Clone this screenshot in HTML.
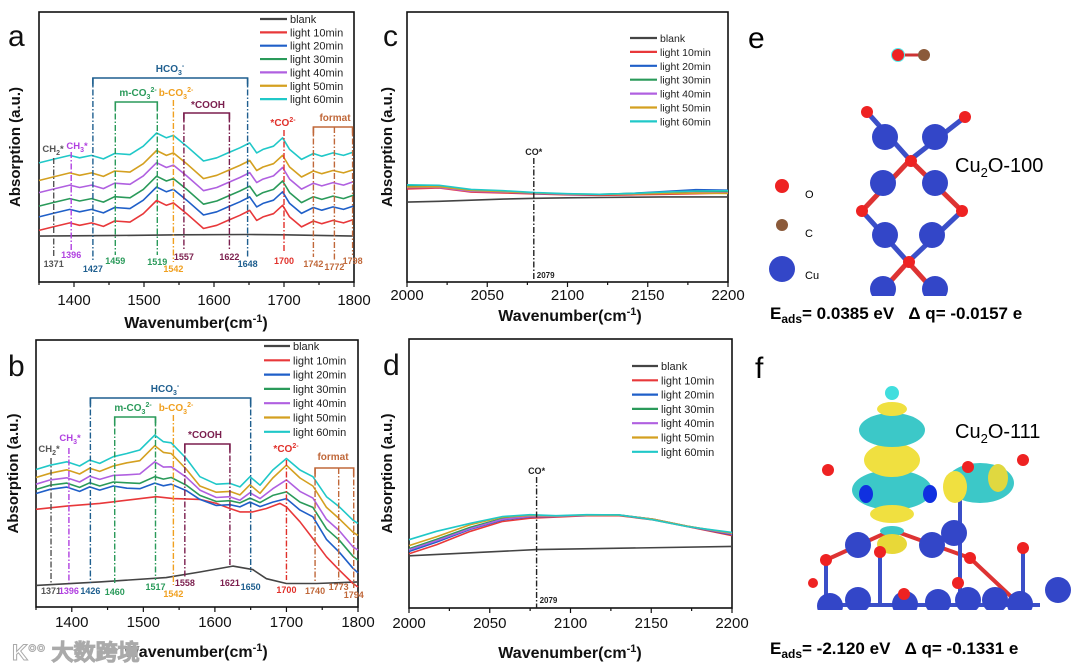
<!DOCTYPE html>
<html><head><meta charset="utf-8">
<style>
html,body{margin:0;padding:0;background:#fff;}
svg{display:block;font-family:"Liberation Sans",Arial,sans-serif;}
</style></head>
<body>
<svg id="fig" width="1080" height="670" viewBox="0 0 1080 670" xmlns="http://www.w3.org/2000/svg">
<rect x="0" y="0" width="1080" height="670" fill="#fff"/>
<g id="plots"></g>

<!-- panel e -->
<g>
  <text x="748" y="48" font-size="30">e</text>
  <line x1="898" y1="55" x2="924" y2="55" stroke="#c33" stroke-width="3"/>
  <circle cx="898" cy="55" r="7" fill="#5ee" />
  <circle cx="898" cy="55" r="6" fill="#e22"/>
  <circle cx="924" cy="55" r="6" fill="#8b5a3a"/>
  <g stroke-width="5">
    <line x1="867" y1="112" x2="910" y2="160" stroke="#3b4fc8"/>
    <line x1="965" y1="117" x2="910" y2="160" stroke="#3b4fc8"/>
    <line x1="910" y1="160" x2="862" y2="211" stroke="#d33"/>
    <line x1="910" y1="160" x2="962" y2="211" stroke="#d33"/>
    <line x1="862" y1="211" x2="908" y2="262" stroke="#3b4fc8"/>
    <line x1="962" y1="211" x2="908" y2="262" stroke="#3b4fc8"/>
    <line x1="908" y1="262" x2="880" y2="293" stroke="#d33"/>
    <line x1="908" y1="262" x2="936" y2="293" stroke="#d33"/>
  </g>
  <g fill="#3346c8">
    <circle cx="885" cy="137" r="13"/><circle cx="935" cy="137" r="13"/>
    <circle cx="883" cy="183" r="13"/><circle cx="935" cy="183" r="13"/>
    <circle cx="885" cy="235" r="13"/><circle cx="932" cy="235" r="13"/>
    <circle cx="883" cy="289" r="13"/><circle cx="935" cy="289" r="13"/>
  </g>
  <g fill="#e22">
    <circle cx="867" cy="112" r="6"/><circle cx="965" cy="117" r="6"/>
    <circle cx="911" cy="161" r="6"/><circle cx="862" cy="211" r="6"/>
    <circle cx="962" cy="211" r="6"/><circle cx="909" cy="262" r="6"/>
  </g>
  <rect x="840" y="296" width="140" height="10" fill="#fff"/>
  <circle cx="782" cy="186" r="7" fill="#e22"/><text x="805" y="198" font-size="11">O</text>
  <circle cx="782" cy="225" r="6" fill="#8b5a3a"/><text x="805" y="237" font-size="11">C</text>
  <circle cx="782" cy="269" r="13" fill="#3346c8"/><text x="805" y="279" font-size="11">Cu</text>
  <text x="955" y="172" font-size="20">Cu<tspan font-size="13" dy="5">2</tspan><tspan dy="-5">O-100</tspan></text>
  <text x="770" y="319" font-size="17" font-weight="bold" style="white-space:pre">E<tspan font-size="12" dy="4">ads</tspan><tspan dy="-4">= 0.0385 eV   Δ q= -0.0157 e</tspan></text>
</g>

<!-- panel f -->
<g>
  <text x="755" y="378" font-size="30">f</text>
  <g stroke-width="4">
    <line x1="826" y1="560" x2="892" y2="530" stroke="#d33"/>
    <line x1="892" y1="530" x2="970" y2="558" stroke="#d33"/>
    <line x1="826" y1="560" x2="826" y2="605" stroke="#3b4fc8"/>
    <line x1="880" y1="552" x2="880" y2="605" stroke="#3b4fc8"/>
    <line x1="960" y1="500" x2="960" y2="595" stroke="#3b4fc8"/>
    <line x1="970" y1="558" x2="1020" y2="605" stroke="#d33"/>
    <line x1="1023" y1="548" x2="1023" y2="600" stroke="#3b4fc8"/>
    <line x1="820" y1="605" x2="1040" y2="605" stroke="#3b4fc8"/>
  </g>
  <ellipse cx="892" cy="490" rx="40" ry="20" fill="#3cc8c8"/>
  <ellipse cx="892" cy="460" rx="28" ry="17" fill="#f0e040"/>
  <ellipse cx="892" cy="430" rx="33" ry="17" fill="#3cc8c8"/>
  <ellipse cx="892" cy="409" rx="15" ry="7" fill="#f0e040"/>
  <circle cx="892" cy="393" r="7" fill="#40dede"/>
  <ellipse cx="892" cy="514" rx="22" ry="9" fill="#f0e040"/>
  <ellipse cx="892" cy="531" rx="12" ry="5" fill="#3cc8c8"/>
  <ellipse cx="892" cy="544" rx="15" ry="10" fill="#e8d838"/>
  <ellipse cx="866" cy="494" rx="7" ry="9" fill="#1030e0"/>
  <ellipse cx="930" cy="494" rx="7" ry="9" fill="#1030e0"/>
  <ellipse cx="980" cy="483" rx="34" ry="20" fill="#3cc8c8"/>
  <ellipse cx="955" cy="487" rx="12" ry="16" fill="#f0e040"/>
  <ellipse cx="998" cy="478" rx="10" ry="14" fill="#e0d840"/>
  <g fill="#3346c8">
    <circle cx="830" cy="606" r="13"/><circle cx="858" cy="600" r="13"/>
    <circle cx="905" cy="604" r="13"/><circle cx="938" cy="602" r="13"/>
    <circle cx="968" cy="600" r="13"/><circle cx="995" cy="600" r="13"/>
    <circle cx="1020" cy="604" r="13"/><circle cx="1058" cy="590" r="13"/>
    <circle cx="858" cy="545" r="13"/><circle cx="932" cy="545" r="13"/>
    <circle cx="954" cy="533" r="13"/>
  </g>
  <g fill="#e22">
    <circle cx="826" cy="560" r="6"/><circle cx="880" cy="552" r="6"/>
    <circle cx="970" cy="558" r="6"/><circle cx="1023" cy="548" r="6"/>
    <circle cx="1023" cy="460" r="6"/><circle cx="968" cy="467" r="6"/>
    <circle cx="828" cy="470" r="6"/><circle cx="904" cy="594" r="6"/>
    <circle cx="958" cy="583" r="6"/><circle cx="813" cy="583" r="5"/>
  </g>
  <rect x="800" y="610" width="280" height="20" fill="#fff"/>
  <text x="955" y="438" font-size="20">Cu<tspan font-size="13" dy="5">2</tspan><tspan dy="-5">O-111</tspan></text>
  <text x="770" y="654" font-size="17" font-weight="bold" style="white-space:pre">E<tspan font-size="12" dy="4">ads</tspan><tspan dy="-4">= -2.120 eV   Δ q= -0.1331 e</tspan></text>
</g>

<text x="12" y="660" font-size="22" font-weight="bold" fill="#fff" stroke="#aaa" stroke-width="1">K°° 大数跨境</text>
</svg>

<script>
// ---------- data ----------
var seriesNames = ["blank","light 10min","light 20min","light 30min","light 40min","light 50min","light 60min"];
var seriesColors = ["#444444","#e8383a","#1f5fc8","#2a9a5a","#b060e0","#d4a020","#20c8c8"];

// panel a
var aWn = [1350,1370,1394,1408,1425,1442,1458,1480,1499,1518,1532,1542,1561,1585,1604,1620,1637,1651,1661,1670,1685,1698,1708,1725,1742,1754,1770,1785,1799];
var aRed = [19.1,20.4,21.9,21,21.9,20.6,22.6,22.2,25.3,30.2,28.4,29.3,25.3,19.8,21,22.8,24.7,26.5,22.8,24.1,25.3,28.4,24.1,20.4,22.6,21.6,22.8,21.9,23.1];
var aOffsets = [5,9,14,18.5,25];
var aBlankWn = [1350,1450,1550,1650,1700,1800];
var aBlank = [17,17.2,17.5,17.6,17.5,17];

// panel b
var bRedWn = [1350,1393,1439,1486,1518,1542,1579,1602,1621,1635,1653,1672,1691,1700,1719,1737,1756,1774,1793,1800];
var bRed = [36.6,37.8,38.8,40.3,41.3,40.6,40.3,38.8,36.9,35.6,35.6,36.9,38.8,37.5,31.9,25.6,18.8,13.8,8.8,7.5];
var bWn = [1350,1370,1393,1411,1425,1439,1458,1477,1495,1516,1528,1539,1560,1579,1602,1621,1635,1649,1663,1681,1700,1719,1737,1756,1774,1793,1800];
var bBlue = [42.5,44.1,44.9,43.3,45,43.8,45.3,44.5,44.3,46.4,45.4,46,43.6,40.3,38,38.3,37.5,39.3,37.6,39.3,40.6,36.3,33.8,25.3,20.5,14.5,12.8];
var bGreen = [44,45.6,46.4,44.8,46.5,45.3,46.8,46.5,46.3,48.8,47.9,48.5,45.6,41.8,39.5,39.8,39,40.8,39.1,41.8,43.1,39.3,37.3,29.3,25,19,17.5];
var bPurple = [46,47.6,48.4,46.8,49,47.8,49.3,49.5,49.8,54.4,52.4,52.5,48.6,43.8,41,41.3,40,42.8,40.6,44.3,47.6,43.3,40.8,32.8,28.5,22.5,21.3];
var bGold = [48.5,50.1,51.4,49.8,52,50.8,52.8,54,54.8,60.4,57.9,57.5,51.6,45.3,43,43.3,42,45.8,42.6,48.3,53.1,48.3,45.3,37.3,33,28,26.8];
var bCyan = [51.5,53.1,54.4,52.8,55,53.8,56.3,57.5,58.8,64.4,61.9,61.5,55.6,48.8,46,46.3,45,48.8,45.6,51.3,55.6,51.3,48.8,41.3,37.5,32.5,31.3];
var bBlankWn = [1350,1439,1532,1579,1625,1653,1672,1700,1742,1800];
var bBlank = [8.1,9.4,11,13.1,15.3,14,10.6,8.8,8.8,9.4];

// panel c
var cWn = [2000,2020,2040,2060,2080,2100,2120,2140,2160,2180,2200];
var cBlank = [29.6,29.9,30.3,30.7,31,31.2,31.3,31.4,31.5,31.5,31.5];
var cRed = [34.5,34.8,33.3,33,32.6,32.3,32.1,32.3,32.5,32.7,33];
var cBlue = [35,35.2,33.8,33.4,32.8,32.5,32.4,32.8,33.5,34.2,34];
var cGreen = [35.5,35.4,34,33.6,33,32.6,32.5,32.8,33.2,33.6,33.5];
var cPurple = [35,35,33.6,33.3,32.9,32.5,32.4,32.6,32.8,33,33];
var cGold = [35.2,35.3,33.9,33.5,33,32.6,32.4,32.6,32.8,32.9,32.8];
var cCyan = [36,35.8,34.3,33.8,33.1,32.7,32.5,32.8,33.3,33.7,33.8];

// panel d
var dWn = [2000,2017,2038,2058,2075,2091,2110,2130,2151,2172,2200];
var dBlankWn = [2000,2079,2200];
var dBlank = [19.4,21.7,22.9];
var dRed = [20.2,23.5,28.5,32.2,33.4,33.8,34.3,34.3,32.8,30.3,26.9];
var dBlue = [21,24.5,29.3,32.8,33.9,34.1,34.5,34.5,33,30.4,27.3];
var dGreen = [22,25.5,30,33.3,34.2,34.2,34.5,34.6,33,30.5,27.6];
var dPurple = [21.6,25,29.5,33,34,34.1,34.5,34.5,33,30.4,27.5];
var dGold = [23.2,26.5,31,33.8,34.4,34.2,34.6,34.5,33,30.4,27.8];
var dCyan = [25.4,28.5,31.5,34,34.7,34.3,34.7,34.6,32.8,30.3,28.1];

var abTicks = [1400,1500,1600,1700,1800];
var cdTicks = [2000,2050,2100,2150,2200];

// ---------- drawing ----------
var NS = "http://www.w3.org/2000/svg";
var root = document.getElementById("plots");
function mk(tag, attrs, parent){
  var e = document.createElementNS(NS, tag);
  for (var k in attrs) e.setAttribute(k, attrs[k]);
  (parent||root).appendChild(e);
  return e;
}
function makePanel(p){
  p.sx = function(v){ return p.x0 + (v - p.xmin)/(p.xmax - p.xmin)*(p.x1 - p.x0); };
  p.sy = function(v){ return p.y1 - v/100*(p.y1 - p.y0); };
  var g = mk("g", {});
  
  
  p.g = g;
  return p;
}
function drawSeries(p, wn, vals, color, name){
  var d = "";
  for (var i=0;i<wn.length;i++) d += (i?"L":"M") + p.sx(wn[i]).toFixed(1) + "," + p.sy(vals[i]).toFixed(1);
  var e = mk("path", {d:d, fill:"none", stroke:color, "stroke-width":1.6, "stroke-linejoin":"round"}, p.g);
  
  
}
function drawFrame(p, ticks, minorStep, titleX, titleY, tickY){
  var f = mk("rect", {x:p.x0, y:p.y0, width:p.x1-p.x0, height:p.y1-p.y0, fill:"none", stroke:"#111", "stroke-width":1.6}, p.g);
  
  
  for (var v = p.xmin; v <= p.xmax + 0.01; v += minorStep){
    var major = ticks.indexOf(v) >= 0;
    mk("line", {x1:p.sx(v), x2:p.sx(v), y1:p.y1, y2:p.y1 + (major?5:3), stroke:"#111", "stroke-width":1.2}, p.g);
  }
  ticks.forEach(function(t){
    var tl = mk("text", {x:p.sx(t), y:tickY, "font-size":15, "text-anchor":"middle", fill:"#111"}, p.g);
    tl.textContent = t;
    
    
  });
  var xt = mk("text", {x:titleX, y:titleY, "font-size":16, "font-weight":"bold", "text-anchor":"middle", fill:"#111"}, p.g);
  xt.innerHTML = 'Wavenumber(cm<tspan font-size="11" dy="-6">-1</tspan><tspan dy="6">)</tspan>';
  
  
  var cy = (p.y0 + p.y1)/2;
  var yt = mk("text", {x:p.ytx, y:cy, "font-size":15, "font-weight":"bold", "text-anchor":"middle", fill:"#111", transform:"rotate(-90 "+p.ytx+" "+cy+")"}, p.g);
  yt.textContent = "Absorption (a.u.)";
  
  
  var pl = mk("text", {x:p.lx, y:p.ly, "font-size":30, fill:"#111"}, p.g);
  pl.textContent = p.id;
  
  
}
function drawLegend(p, lx0, lx1, ty, step, fs){
  for (var i=0;i<seriesNames.length;i++){
    var y = ty + i*step;
    var ln = mk("line", {x1:lx0, x2:lx1, y1:y, y2:y, stroke:seriesColors[i], "stroke-width":2.2}, p.g);
    
    
    var t = mk("text", {x:lx1+3, y:y+4, "font-size":fs, fill:"#222"}, p.g);
    t.textContent = seriesNames[i];
    
    
  }
}
function vline(p, wn, ya, yb, color){
  var l = mk("line", {x1:p.sx(wn), x2:p.sx(wn), y1:ya, y2:yb, stroke:color, "stroke-width":1.4, "stroke-dasharray":"6,2,1.5,2"}, p.g);
  
  
}
function bracket(p, w1, w2, y, color){
  var l = mk("path", {d:"M"+p.sx(w1)+","+(y+8)+"V"+y+"H"+p.sx(w2)+"V"+(y+8), fill:"none", stroke:color, "stroke-width":1.6}, p.g);
  
  
}
function label(p, x, y, html, color, fs, anchor){
  var t = mk("text", {x:x, y:y, "font-size":fs||10, "font-weight":"bold", fill:color, "text-anchor":anchor||"middle"}, p.g);
  t.innerHTML = html;
  
  
}

var C = {gray:"#555", ch3:"#b040e0", hco:"#1f5f8f", m:"#2a9a5a", b:"#f0a020", cooh:"#7b1f4e", co2:"#e0302a", fm:"#c0683a"};
function annotateAB(p, nums){
  nums.forEach(function(n){
    vline(p, n[0], n[4], n[2], n[1]);
    label(p, p.sx(n[0]), n[3], n[0], n[1], 9);
  });
}

// ---- panel a ----
var pa = makePanel({id:"a", x0:39, x1:354, y0:12, y1:282, xmin:1350, xmax:1800, ytx:20, lx:8, ly:46});
drawFrame(pa, abTicks, 50, 196, 328, 305);
drawSeries(pa, aBlankWn, aBlank, seriesColors[0], "series-blank");
drawSeries(pa, aWn, aRed, seriesColors[1], "series-light-10min");
aOffsets.forEach(function(o, k){
  drawSeries(pa, aWn, aRed.map(function(v){return v + o;}), seriesColors[k+2], "series-light-" + (k+2)*10 + "min");
});
drawLegend(pa, 260, 287, 19, 13.35, 11);
bracket(pa, 1427, 1648, 78, C.hco);
bracket(pa, 1459, 1519, 102, C.m);
bracket(pa, 1557, 1622, 113, C.cooh);
bracket(pa, 1742, 1798, 127, C.fm);
annotateAB(pa, [
 [1371,C.gray,256,267,158],[1396,C.ch3,250,258,152],[1427,C.hco,262,272,78],[1459,C.m,255,264,102],
 [1519,C.m,255,265,102],[1542,C.b,262,272,100],[1557,C.cooh,250,260,113],[1622,C.cooh,250,260,113],
 [1648,C.hco,257,267,78],[1700,C.co2,252,264,130],[1742,C.fm,257,267,127],[1772,C.fm,260,270,127],[1798,C.fm,255,264,127]]);
label(pa, 170, 72, 'HCO<tspan font-size="7" dy="3">3</tspan><tspan font-size="7" dy="-7">-</tspan>', C.hco, 10);
label(pa, 138, 96, 'm-CO<tspan font-size="7" dy="3">3</tspan><tspan font-size="7" dy="-7">2-</tspan>', C.m, 10);
label(pa, 176, 96, 'b-CO<tspan font-size="7" dy="3">3</tspan><tspan font-size="7" dy="-7">2-</tspan>', C.b, 10);
label(pa, 208, 108, '*COOH', C.cooh, 10);
label(pa, 283, 126, '*CO<tspan font-size="7" dy="-4">2-</tspan>', C.co2, 10);
label(pa, 335, 121, 'format', C.fm, 10);
label(pa, 53, 152, 'CH<tspan font-size="7" dy="3">2</tspan><tspan dy="-3">*</tspan>', C.gray, 9.5);
label(pa, 77, 149, 'CH<tspan font-size="7" dy="3">3</tspan><tspan dy="-3">*</tspan>', C.ch3, 9.5);

// ---- panel b ----
var pb = makePanel({id:"b", x0:36, x1:358, y0:340, y1:607, xmin:1350, xmax:1800, ytx:18, lx:8, ly:376});
drawFrame(pb, abTicks, 50, 196, 657, 627);
drawSeries(pb, bBlankWn, bBlank, seriesColors[0], "series-blank");
drawSeries(pb, bRedWn, bRed, seriesColors[1], "series-light-10min");
drawSeries(pb, bWn, bBlue, seriesColors[2], "series-light-20min");
drawSeries(pb, bWn, bGreen, seriesColors[3], "series-light-30min");
drawSeries(pb, bWn, bPurple, seriesColors[4], "series-light-40min");
drawSeries(pb, bWn, bGold, seriesColors[5], "series-light-50min");
drawSeries(pb, bWn, bCyan, seriesColors[6], "series-light-60min");
drawLegend(pb, 264, 290, 346, 14.3, 11);
bracket(pb, 1426, 1650, 398, C.hco);
bracket(pb, 1460, 1517, 417, C.m);
bracket(pb, 1558, 1621, 444, C.cooh);
bracket(pb, 1740, 1794, 468, C.fm);
annotateAB(pb, [
 [1371,C.gray,583,594,458],[1396,C.ch3,583,594,448],[1426,C.hco,583,594,398],[1460,C.m,583,595,417],
 [1517,C.m,580,590,417],[1542,C.b,585,597,415],[1558,C.cooh,577,586,444],[1621,C.cooh,566,586,444],
 [1650,C.hco,572,590,398],[1700,C.co2,580,593,460],[1740,C.fm,583,594,468],[1773,C.fm,580,590,468],[1794,C.fm,588,598,468]]);
label(pb, 165, 392, 'HCO<tspan font-size="7" dy="3">3</tspan><tspan font-size="7" dy="-7">-</tspan>', C.hco, 10);
label(pb, 133, 411, 'm-CO<tspan font-size="7" dy="3">3</tspan><tspan font-size="7" dy="-7">2-</tspan>', C.m, 10);
label(pb, 176, 411, 'b-CO<tspan font-size="7" dy="3">3</tspan><tspan font-size="7" dy="-7">2-</tspan>', C.b, 10);
label(pb, 205, 438, '*COOH', C.cooh, 10);
label(pb, 286, 452, '*CO<tspan font-size="7" dy="-4">2-</tspan>', C.co2, 10);
label(pb, 333, 460, 'format', C.fm, 10);
label(pb, 49, 452, 'CH<tspan font-size="7" dy="3">2</tspan><tspan dy="-3">*</tspan>', C.gray, 9.5);
label(pb, 70, 441, 'CH<tspan font-size="7" dy="3">3</tspan><tspan dy="-3">*</tspan>', C.ch3, 9.5);

// ---- panel c ----
var pc = makePanel({id:"c", x0:407, x1:728, y0:12, y1:282, xmin:2000, xmax:2200, ytx:392, lx:383, ly:46});
drawFrame(pc, cdTicks, 25, 570, 321, 300);
var cVals = [cBlank, cRed, cBlue, cGreen, cPurple, cGold, cCyan];
cVals.forEach(function(v, i){ drawSeries(pc, cWn, v, seriesColors[i], "series-" + seriesNames[i].replace(" ", "-")); });
drawLegend(pc, 630, 657, 38, 13.9, 10.5);
vline(pc, 2079, 158, 280, "#222");
label(pc, pc.sx(2079), 155, 'CO*', "#222", 9);
label(pc, pc.sx(2079)+3, 278, '2079', "#222", 8, "start");

// ---- panel d ----
var pd = makePanel({id:"d", x0:409, x1:732, y0:339, y1:608, xmin:2000, xmax:2200, ytx:392, lx:383, ly:375});
drawFrame(pd, cdTicks, 25, 570, 658, 628);
drawSeries(pd, dBlankWn, dBlank, seriesColors[0], "series-blank");
var dVals = [dRed, dBlue, dGreen, dPurple, dGold, dCyan];
dVals.forEach(function(v, i){ drawSeries(pd, dWn, v, seriesColors[i+1], "series-" + seriesNames[i+1].replace(" ", "-")); });
drawLegend(pd, 632, 658, 366, 14.3, 11);
vline(pd, 2079, 477, 608, "#222");
label(pd, pd.sx(2079), 474, 'CO*', "#222", 9);
label(pd, pd.sx(2079)+3, 603, '2079', "#222", 8, "start");
</script>
</body></html>
